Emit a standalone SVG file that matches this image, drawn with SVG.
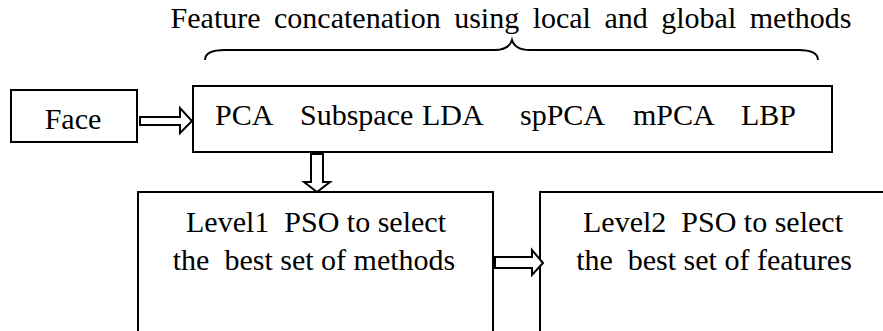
<svg xmlns="http://www.w3.org/2000/svg" width="883" height="331" viewBox="0 0 883 331">
  <style>
    .box { fill: #ffffff; stroke: #000000; stroke-width: 2; }
    .arrow { fill: #ffffff; stroke: #000000; stroke-width: 2; stroke-linejoin: miter; }
    .brace { fill: none; stroke: #000000; stroke-width: 2; }
    text { font-family: 'Liberation Serif', 'Times New Roman', Times, serif; font-size: 30px; fill: #000000; }
  </style>
  <rect width="883" height="331" fill="#ffffff"/>

  <!-- heading over the brace -->
  <text x="511" y="28" text-anchor="middle" word-spacing="6">Feature concatenation using local and global methods</text>

  <!-- curly brace spanning the method list -->
  <path class="brace" d="M205,60 Q205,50 225,50 L494,50 Q509,50 512,40 Q515,50 530,50 L798,50 Q818,50 818,60"/>

  <g id="face">
    <rect class="box" x="11" y="90" width="126" height="52"/>
    <text x="73" y="129" text-anchor="middle">Face</text>
  </g>

  <g id="methods">
    <rect class="box" x="193" y="86" width="639" height="66"/>
    <text y="125"><tspan x="215">PCA</tspan><tspan x="300">Subspace</tspan><tspan x="422">LDA</tspan><tspan x="520">spPCA</tspan><tspan x="633">mPCA</tspan><tspan x="741">LBP</tspan></text>
  </g>

  <g id="level1">
    <rect class="box" x="138" y="192" width="355" height="160"/>
    <text x="316" y="232" text-anchor="middle" xml:space="preserve">Level1  PSO to select</text>
    <text x="314" y="270" text-anchor="middle" xml:space="preserve">the  best set of methods</text>
  </g>

  <g id="level2">
    <rect class="box" x="540" y="192" width="360" height="160"/>
    <text x="713" y="232" text-anchor="middle" xml:space="preserve">Level2  PSO to select</text>
    <text x="714" y="270" text-anchor="middle" xml:space="preserve">the  best set of features</text>
  </g>

  <g id="connectors">
    <!-- Face to methods -->
    <path class="arrow" d="M140,117 L180,117 L180,108 L192,121 L180,133 L180,125 L140,125 Z"/>
    <!-- methods down to level 1 -->
    <path class="arrow" d="M311,154 L323,154 L323,182 L330,182 L317,192 L304,182 L311,182 Z"/>
    <!-- level 1 to level 2 -->
    <path class="arrow" d="M495,257 L532,257 L532,250 L543,263 L532,275 L532,268 L495,268 Z"/>
  </g>
</svg>
